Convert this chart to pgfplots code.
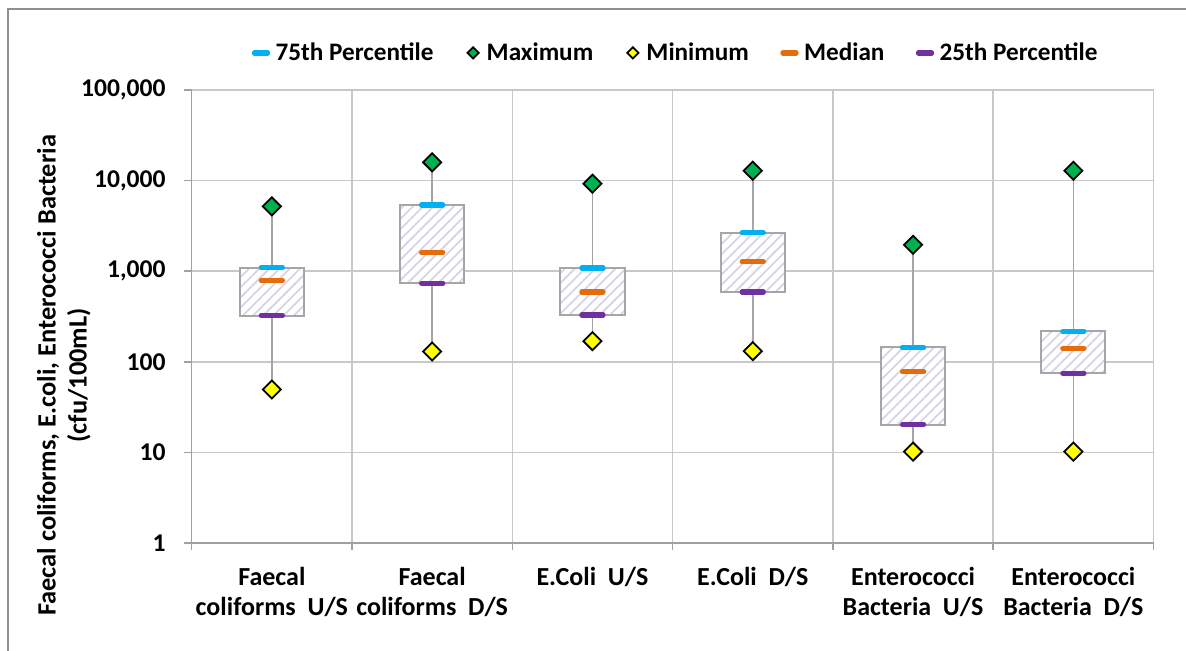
\documentclass[border=0pt]{standalone}
\usepackage{fontspec}
\setmainfont{Carlito}
\usepackage{pgfplots}
\usepackage{pgfplotstable}
\pgfplotsset{compat=1.18}
\usetikzlibrary{patterns.meta}
\definecolor{c75}{HTML}{00B0F0}
\definecolor{cmax}{HTML}{00B050}
\definecolor{cmin}{HTML}{FFFF00}
\definecolor{cmed}{HTML}{E46C0A}
\definecolor{c25}{HTML}{7030A0}
\definecolor{gridc}{HTML}{C8C8C8}
\definecolor{axisc}{HTML}{A0A0A0}
\definecolor{boxc}{HTML}{A6A6A6}
\definecolor{hatchc}{HTML}{DAD3E8}
\definecolor{framec}{HTML}{8F8F8F}

\pgfplotstableread{
x q25 med q75 min max
0 323 787 1096 49.5 5190
1 737 1606 5370 130 15900
2 329 590 1087 169 9240
3 590 1268 2654 131 12850
4 20.3 77.5 144 10.2 1955
5 75 141 217 10.2 12850
}\datatable

\begin{document}
\begin{tikzpicture}
\path[use as bounding box] (0,0) rectangle (593pt,325pt);
\draw[framec, line width=1pt] (4pt,-1pt) -- (4pt,320.5pt) -- (594pt,320.5pt);
\begin{axis}[
  at={(95.85pt,53.5pt)}, anchor=south west,
  scale only axis, width=480.9pt, height=226.5pt,
  ymode=log, ymin=1, ymax=100000,
  xmin=-0.5, xmax=5.5,
  axis x line*=bottom, axis y line*=left,
  axis line style={draw=axisc, line width=0.75pt},
  tick align=outside,
  major tick length=4pt, minor tick length=3.5pt,
  tick style={draw=axisc, line width=0.75pt},
  major x tick style={draw=none},
  xtick={0,1,2,3,4,5},
  minor xtick={-0.5,0.5,1.5,2.5,3.5,4.5,5.5},
  xticklabels={{Faecal\\coliforms\ \ U/S},{Faecal\\coliforms\ \ D/S},{E.Coli\ \ U/S},{E.Coli\ \ D/S},{Enterococci\\Bacteria\ \ U/S},{Enterococci\\Bacteria\ \ D/S}},
  xticklabel style={align=center, anchor=north, font=\bfseries\fontsize{13}{15}\selectfont, yshift=-4.5pt},
  ytick={1,10,100,1000,10000,100000},
  yticklabels={1,10,100,{1,000},{10,000},{100,000}},
  yminorticks=false,
  yticklabel style={font=\bfseries\fontsize{12.8}{15}\selectfont, xshift=-5.5pt},
  xminorgrids=true, ymajorgrids=true,
  grid style={draw=gridc, line width=0.75pt},
  ylabel={Faecal coliforms, E.coli, Enterococci Bacteria\\(cfu/100mL)},
  ylabel style={align=center, font=\bfseries\fontsize{13.2}{15.5}\selectfont, at={(axis description cs:-0.1328,0.37)}, anchor=center},
  legend columns=5,
  legend style={at={(axis description cs:0.5056,1.0818)}, anchor=center, draw=none, fill=none,
    font=\bfseries\fontsize{12.6}{14}\selectfont,
    /tikz/every odd column/.append style={column sep=2pt},
    /tikz/every even column/.append style={column sep=15pt},
    nodes={inner xsep=2pt}},
  legend image code/.code={\draw[mark repeat=2,mark phase=2,every mark/.append style={scale=0.62},#1] plot coordinates {(0pt,0pt) (3.5pt,0pt) (7pt,0pt)};},
  clip=false,
]
% whiskers
\addplot[draw=boxc, line width=0.75pt, forget plot] coordinates {(0,49.5) (0,5190)};
\addplot[draw=boxc, line width=0.75pt, forget plot] coordinates {(1,130) (1,15900)};
\addplot[draw=boxc, line width=0.75pt, forget plot] coordinates {(2,169) (2,9240)};
\addplot[draw=boxc, line width=0.75pt, forget plot] coordinates {(3,131) (3,12850)};
\addplot[draw=boxc, line width=0.75pt, forget plot] coordinates {(4,10.2) (4,1955)};
\addplot[draw=boxc, line width=0.75pt, forget plot] coordinates {(5,10.2) (5,12850)};
% boxes
\pgfplotsset{boxst/.style={draw=boxc, line width=1pt, preaction={fill=white}, pattern={Lines[angle=45,distance=3.6pt,line width=0.9pt]}, pattern color=hatchc, forget plot}}
\addplot[boxst] coordinates {(-0.2,323) (0.2,323) (0.2,1096) (-0.2,1096)} -- cycle;
\addplot[boxst] coordinates {(0.8,737) (1.2,737) (1.2,5370) (0.8,5370)} -- cycle;
\addplot[boxst] coordinates {(1.8,329) (2.2,329) (2.2,1087) (1.8,1087)} -- cycle;
\addplot[boxst] coordinates {(2.8,590) (3.2,590) (3.2,2654) (2.8,2654)} -- cycle;
\addplot[boxst] coordinates {(3.8,20.3) (4.2,20.3) (4.2,144) (3.8,144)} -- cycle;
\addplot[boxst] coordinates {(4.8,75) (5.2,75) (5.2,217) (4.8,217)} -- cycle;
% markers
\addplot[only marks, mark=-, mark size=5.3pt, mark options={draw=c75, line width=2.6pt, line cap=round}] table[x=x,y=q75]{\datatable};
\addlegendentry{75th Percentile}
\addplot[only marks, mark=square*, mark size=3.2pt, mark options={rotate=45, fill=cmax, draw=black, line width=0.9pt}] table[x=x,y=max]{\datatable};
\addlegendentry{Maximum}
\addplot[only marks, mark=square*, mark size=3.2pt, mark options={rotate=45, fill=cmin, draw=black, line width=0.9pt}] table[x=x,y=min]{\datatable};
\addlegendentry{Minimum}
\addplot[only marks, mark=-, mark size=5.3pt, mark options={draw=cmed, line width=2.6pt, line cap=round}] table[x=x,y=med]{\datatable};
\addlegendentry{Median}
\addplot[only marks, mark=-, mark size=5.3pt, mark options={draw=c25, line width=2.6pt, line cap=round}] table[x=x,y=q25]{\datatable};
\addlegendentry{25th Percentile}
\end{axis}
\end{tikzpicture}
\end{document}
